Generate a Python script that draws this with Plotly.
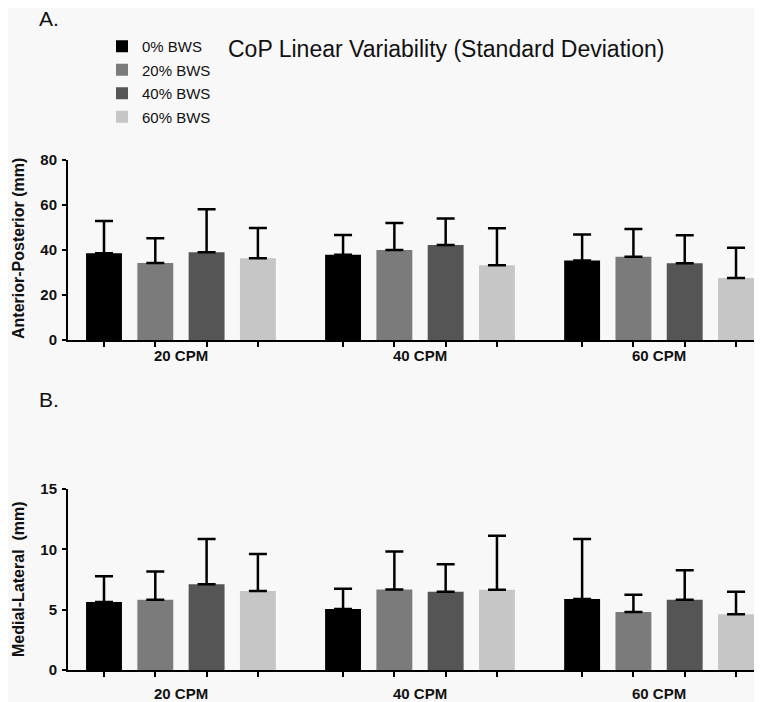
import plotly.graph_objects as go

# ---------------- data ----------------
groups = ["20 CPM", "40 CPM", "60 CPM"]
series = ["0% BWS", "20% BWS", "40% BWS", "60% BWS"]
colors = ["#000000", "#7b7b7b", "#555555", "#c6c6c6"]

# Anterior-Posterior mean and SD (mm)
ap_0 = [38.4, 37.8, 35.2]
ap_20 = [34.1, 39.9, 36.9]
ap_40 = [38.9, 42.1, 34.0]
ap_60 = [36.2, 33.1, 27.5]
ap_sd_0 = [14.3, 8.7, 11.6]
ap_sd_20 = [11.0, 12.0, 12.3]
ap_sd_40 = [19.0, 11.8, 12.4]
ap_sd_60 = [13.4, 16.4, 13.4]

# Medial-Lateral mean and SD (mm)
ml_0 = [5.63, 5.05, 5.88]
ml_20 = [5.83, 6.68, 4.81]
ml_40 = [7.10, 6.49, 5.83]
ml_60 = [6.55, 6.66, 4.61]
ml_sd_0 = [2.13, 1.69, 4.97]
ml_sd_20 = [2.34, 3.15, 1.43]
ml_sd_40 = [3.75, 2.27, 2.43]
ml_sd_60 = [3.06, 4.47, 1.88]

ap_means = [ap_0, ap_20, ap_40, ap_60]
ap_sds = [ap_sd_0, ap_sd_20, ap_sd_40, ap_sd_60]
ml_means = [ml_0, ml_20, ml_40, ml_60]
ml_sds = [ml_sd_0, ml_sd_20, ml_sd_40, ml_sd_60]

# ---------------- layout helpers ----------------
OFF = 8                      # page (body) offset of the figure in the browser
W, H = 762 - OFF, 702 - OFF  # figure fills the window without overflowing
ML, MR, MT, MB = 60, 0, 0, 0
PW = W - ML - MR
UNIT = 51.3                  # pixels per bar slot
GROUP_STEP = 4.66
BAR_W = 0.70


def xpos(g, i):
    return g * GROUP_STEP + i


def py(pix):  # screen pixel from top -> paper y
    return 1 - (pix - OFF - MT) / (H - MT - MB)


def px(pix):  # screen pixel from left -> paper x
    return (pix - OFF - ML) / PW


FONT = "Liberation Sans, Arial, sans-serif"

fig = go.Figure()

for panel, (means, sds) in enumerate([(ap_means, ap_sds), (ml_means, ml_sds)]):
    xa = "x" if panel == 0 else "x2"
    ya = "y" if panel == 0 else "y2"
    for i, name in enumerate(series):
        fig.add_trace(go.Bar(
            x=[xpos(g, i) for g in range(len(groups))],
            y=means[i],
            width=BAR_W,
            name=name,
            marker=dict(color=colors[i], line=dict(width=0)),
            error_y=dict(type="data", array=sds[i], arrayminus=[0] * len(groups),
                         symmetric=False, color="#000000", thickness=2.5, width=9),
            showlegend=(panel == 0),
            legendgroup=name,
            xaxis=xa, yaxis=ya,
        ))

tickvals = [xpos(g, i) for g in range(len(groups)) for i in range(len(series))]
first_center = 104 - OFF
xrange_ = [-(first_center - ML) / UNIT, (W - MR - first_center) / UNIT]

xcommon = dict(range=xrange_, tickvals=tickvals, ticktext=[""] * len(tickvals),
               ticks="outside", ticklen=5, tickwidth=2, tickcolor="#000",
               showline=True, linewidth=2, linecolor="#000", showgrid=False,
               zeroline=False, automargin=False)
ycommon = dict(ticks="outside", ticklen=4, tickwidth=2, tickcolor="#000",
               showline=True, linewidth=2, linecolor="#000", showgrid=False,
               zeroline=False, ticklabelstandoff=2, automargin=False,
               tickfont=dict(family=FONT, size=15, color="#111", weight="bold"))

top_dom = [py(340), py(159.5)]
bot_dom = [py(670), py(489)]

fig.update_layout(
    width=W, height=H,
    margin=dict(l=ML, r=MR, t=MT, b=MB),
    paper_bgcolor="#f8f8f8", plot_bgcolor="#f8f8f8",
    barmode="overlay",
    font=dict(family=FONT, color="#111"),
    xaxis=dict(domain=[0, 1], anchor="y", **xcommon),
    xaxis2=dict(domain=[0, 1], anchor="y2", **xcommon),
    yaxis=dict(domain=top_dom, anchor="x", range=[0, 80],
               tickvals=[0, 20, 40, 60, 80], **ycommon),
    yaxis2=dict(domain=bot_dom, anchor="x2", range=[0, 15],
                tickvals=[0, 5, 10, 15], **ycommon),
    legend=dict(x=px(102), y=py(30), xanchor="left", yanchor="top",
                bgcolor="rgba(0,0,0,0)", font=dict(family=FONT, size=15, color="#111"),
                tracegroupgap=1, itemclick=False),
    showlegend=True,
)

annotations = []
# category labels
for g, lab in enumerate(groups):
    for yp in (355, 693):
        annotations.append(dict(x=xpos(g, 1.5), xref="x", y=py(yp), yref="paper",
                                text=lab, showarrow=False, xanchor="center", yanchor="middle",
                                font=dict(family=FONT, size=15, color="#111", weight="bold")))
# panel letters
annotations.append(dict(x=px(37), y=py(18), xref="paper", yref="paper", text="A.",
                        showarrow=False, xanchor="left", yanchor="middle",
                        font=dict(family=FONT, size=21, color="#111")))
annotations.append(dict(x=px(37), y=py(399), xref="paper", yref="paper", text="B.",
                        showarrow=False, xanchor="left", yanchor="middle",
                        font=dict(family=FONT, size=21, color="#111")))
# title
annotations.append(dict(x=px(446), y=py(49), xref="paper", yref="paper",
                        text="CoP Linear Variability (Standard Deviation)",
                        showarrow=False, xanchor="center", yanchor="middle",
                        font=dict(family=FONT, size=23, color="#111")))
# y axis titles
annotations.append(dict(x=px(18), y=py(249), xref="paper", yref="paper",
                        text="Anterior-Posterior (mm)", textangle=-90,
                        showarrow=False, xanchor="center", yanchor="middle",
                        font=dict(family=FONT, size=16, color="#111", weight="bold")))
annotations.append(dict(x=px(18), y=py(579), xref="paper", yref="paper",
                        text="Medial-Lateral  (mm)", textangle=-90,
                        showarrow=False, xanchor="center", yanchor="middle",
                        font=dict(family=FONT, size=16, color="#111", weight="bold")))
fig.update_layout(annotations=annotations)

fig.write_html("out.html")
